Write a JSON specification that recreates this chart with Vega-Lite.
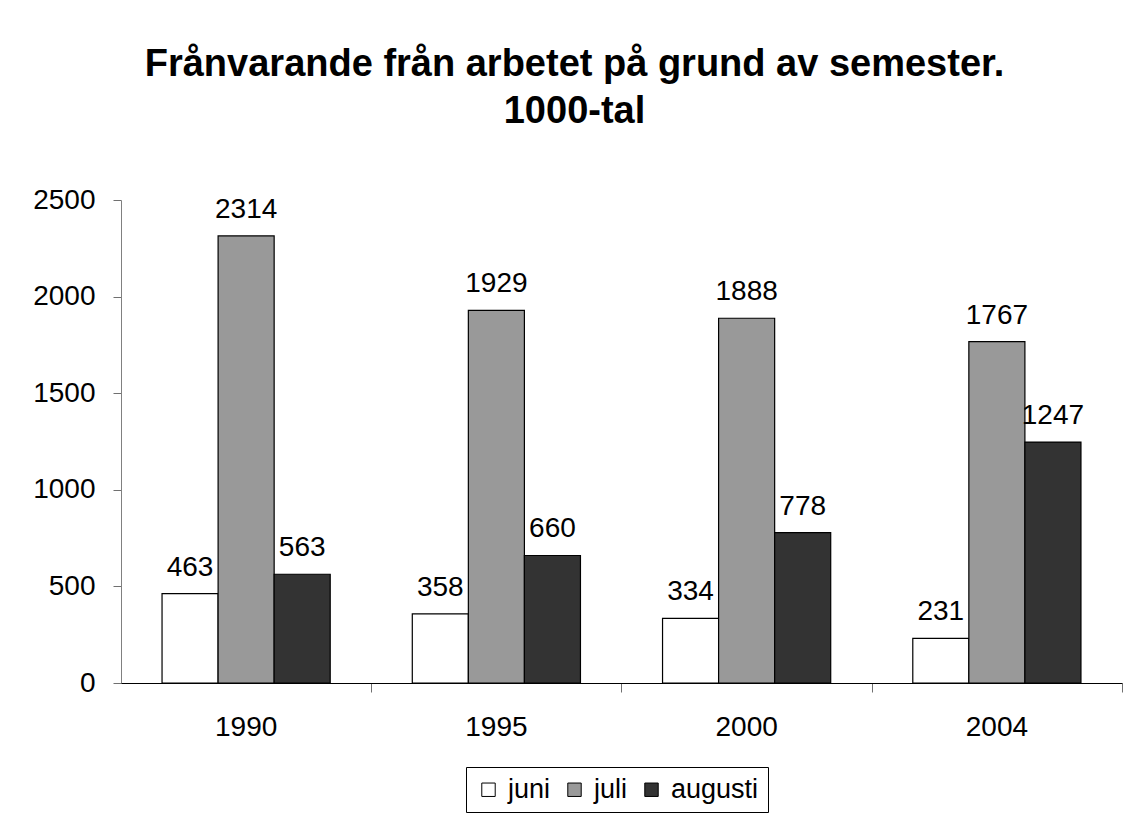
{
  "$schema": "https://vega.github.io/schema/vega-lite/v6.json",
  "width": 1001,
  "height": 483,
  "autosize": {"type": "none"},
  "padding": {"left": 121, "top": 200, "right": 5, "bottom": 131},
  "background": "white",
  "config": {
    "view": {"stroke": null},
    "font": "Liberation Sans",
    "text": {"font": "Liberation Sans"}
  },
  "title": {
    "text": ["Frånvarande från arbetet på grund av semester.", "1000-tal"],
    "font": "Liberation Sans",
    "fontSize": 38,
    "fontWeight": "bold",
    "color": "black",
    "anchor": "middle",
    "frame": "group",
    "dx": -47,
    "lineHeight": 47,
    "offset": 55
  },
  "data": {
    "values": [
      {"year": "1990", "month": "juni", "value": 463},
      {"year": "1990", "month": "juli", "value": 2314},
      {"year": "1990", "month": "augusti", "value": 563},
      {"year": "1995", "month": "juni", "value": 358},
      {"year": "1995", "month": "juli", "value": 1929},
      {"year": "1995", "month": "augusti", "value": 660},
      {"year": "2000", "month": "juni", "value": 334},
      {"year": "2000", "month": "juli", "value": 1888},
      {"year": "2000", "month": "augusti", "value": 778},
      {"year": "2004", "month": "juni", "value": 231},
      {"year": "2004", "month": "juli", "value": 1767},
      {"year": "2004", "month": "augusti", "value": 1247}
    ]
  },
  "encoding": {
    "xOffset": {"field": "month", "type": "nominal", "sort": ["juni", "juli", "augusti"]},
    "y": {
      "field": "value",
      "type": "quantitative",
      "scale": {"domain": [0, 2500], "nice": false},
      "axis": {
        "title": null,
        "values": [0, 500, 1000, 1500, 2000, 2500],
        "format": "d",
        "grid": false,
        "labelFont": "Liberation Sans",
        "labelFontSize": 28,
        "labelColor": "black",
        "labelPadding": 18,
        "ticks": true,
        "tickSize": 8,
        "tickColor": "#707070",
        "domainColor": "#808080",
        "labelFlush": false
      }
    }
  },
  "resolve": {"axis": {"x": "independent"}},
  "layer": [
    {
      "mark": {"type": "bar", "stroke": "black", "strokeWidth": 1.2},
      "encoding": {
        "x": {
          "field": "year",
          "type": "nominal",
          "scale": {"paddingInner": 0.328, "paddingOuter": 0.164},
          "axis": {
            "orient": "bottom",
            "offset": 0,
            "title": null,
            "labelAngle": 0,
            "labelFont": "Liberation Sans",
            "labelFontSize": 28,
            "labelColor": "black",
            "labelBaseline": "top",
            "labelPadding": 30,
            "ticks": false,
            "domainColor": "black",
            "domainWidth": 1,
            "zindex": 1
          }
        },
        "color": {
          "field": "month",
          "type": "nominal",
          "sort": ["juni", "juli", "augusti"],
          "scale": {"domain": ["juni", "juli", "augusti"], "range": ["#ffffff", "#999999", "#333333"]},
          "legend": {
            "title": null,
            "orient": "none",
            "direction": "horizontal",
            "legendX": 345,
            "legendY": 567,
            "strokeColor": "black",
            "padding": 9,
            "symbolType": "square",
            "symbolSize": 180,
            "symbolStrokeColor": "black",
            "symbolStrokeWidth": 1,
            "symbolOpacity": 1,
            "labelFont": "Liberation Sans",
            "labelFontSize": 27,
            "labelColor": "black",
            "labelOffset": 6,
            "columnPadding": 10
          }
        }
      }
    },
    {
      "mark": {"type": "text", "baseline": "alphabetic", "dy": -18, "fontSize": 28, "color": "black"},
      "encoding": {
        "x": {
          "field": "year",
          "type": "nominal",
          "axis": {
            "orient": "bottom",
            "offset": 0,
            "title": null,
            "labels": false,
            "domain": false,
            "ticks": true,
            "tickOffset": 125,
            "tickSize": 9,
            "tickWidth": 1,
            "tickColor": "#707070"
          }
        },
        "text": {"field": "value", "type": "quantitative"}
      }
    }
  ]
}
